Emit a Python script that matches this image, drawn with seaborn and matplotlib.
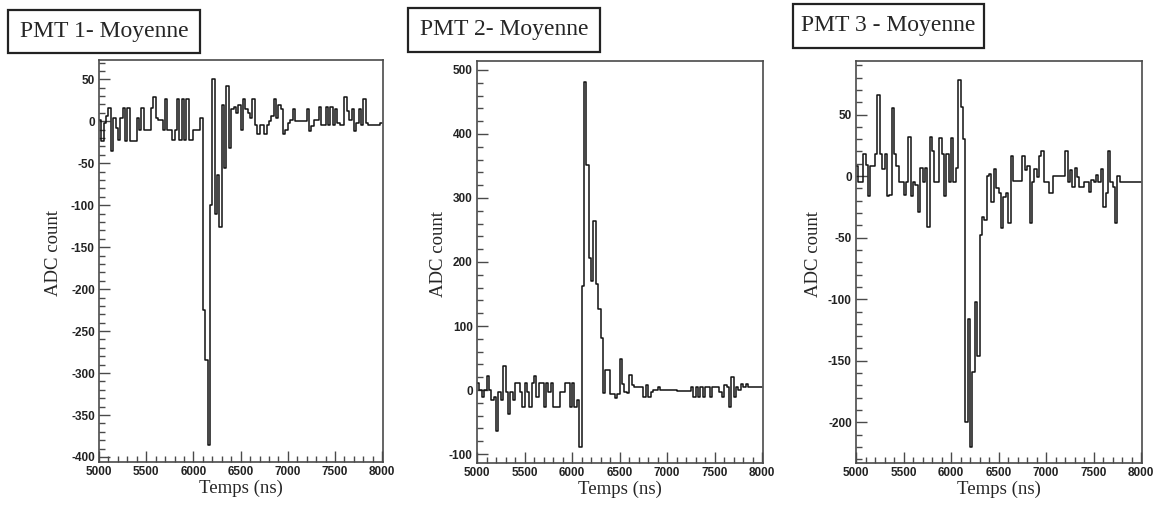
import numpy as np
import pandas as pd
import matplotlib
matplotlib.use("Agg")
import matplotlib.pyplot as plt
from matplotlib.ticker import MultipleLocator
from matplotlib.patches import Rectangle
import seaborn as sns

# ---------------- data ----------------
t_start, t_end = 5000, 8000

pmt1_adc = [2, -23, -2, 6, 16, -35, 4, -8, -22, 4, 16, -23, 16, -23, -23, -23, 4, -10, 16, -10,
            -10, -10, 16, 29, 4, 2, 2, -10, 27, -10, -10, -22, -10, 27, -22, 27, -22, 27, -22, -22,
            -10, -10, -10, 4,
            -225, -285, -386, -100, 50, -110, -64, -126, 19, -56, 42, -32, 15,
            17, 10, 19, -10, 27, 15, 10, 4, 26, -4, -15, -4, -4, -15, -4, 0, 6, 26, 4, 19,
            15, -15, -10, -2, 2, 15, 0, 0, 0, 0, 0, 15, -12, -6, 2, 2, 17, -4, -4, 17,
            -4, 17, -4, 15, -2, -4, -4, 29, 12, 2, 15, -12, -2, 15, -4, 26, -2, -4, -4, -4,
            -4, -4, -2]

pmt2_adc = [11, 0, -11, 0, 22, 0, -16, -11, -64, -3, -16, 37, -3, -37, -3, -16, 11, 11, -3, -27,
            11, -3, -27, 11, 22, -11, 11, 11, -27, 11, -3, 11, -27, -27, -27, -3, -3, 11, 11, -27,
            11, -27, -16, -89,
            163, 481, 352, 206, 170, 264, 165, 127, 82, -5, 31, 31, -6,
            -6, -12, -6, 49, 10, -3, -5, 24, 8, 5, 5, 5, 5, -11, 8, -11, -3, 0, 0, 5,
            0, 0, 0, 0, 0, 0, 0, -1, -1, -1, -1, -1, -1, 5, -11, 5, -11, 5, -11, 5,
            5, -11, 5, 5, 5, -3, -11, 8, 5, -27, 21, -11, 5, 0, 10, 5, 10, 5, 5, 5,
            5, 5, 5]

pmt3_adc = [8, -5, -5, 18, 9, -16, 8, 8, 18, 66, 18, 6, 18, -16, -15, 55, 18, 8, -5, -5,
            -15, -5, 32, -16, -5, -7, -29, 7, -5, 7, -41, 32, 20, -5, -5, 31, 18, -16, 18, -5,
            31, -5, 7, 78, 56, 30,
            -200, -116, -220, -159, -102, -146, -48, -33, -36, 0, 2, -21, 6, -10, -14, -42,
            -17, -14, -38, 16,
            -4, -4, -4, -4, 16, 5, 8, -38, -5, 6, -1, 16, 20, -5, -5, -14, -14, 0, 0, 0,
            0, 0, 20, -5, 5, -9, 7, -1, -9, -9, -5, -5, -13, -3, -5, 1, -5, 6, -25, -14,
            20, -5, -9, -38, 0, -5, -5, -5, -5, -5, -5, -5, -5, -5]

titles = ["PMT 1- Moyenne", "PMT 2- Moyenne", "PMT 3 - Moyenne"]
x_label = "Temps (ns)"
y_label = "ADC count"
x_ticks = [5000, 5500, 6000, 6500, 7000, 7500, 8000]
y_limits = [(-406, 73), (-114, 514), (-233, 93.5)]
y_major = [50, 100, 50]
y_minor = [10, 20, 10]

# ---------------- style ----------------
sns.set_style("white")
plt.rcParams["font.family"] = ["Liberation Sans", "DejaVu Sans"]
plt.rcParams["axes.unicode_minus"] = False

W, H = 1157, 512
fig = plt.figure(figsize=(W / 100, H / 100), dpi=100)
fig.patch.set_facecolor("white")

# axes boxes in pixels: left, top, right, bottom
ax_px = [(99, 60, 383, 462), (477, 61, 763, 463), (856, 61, 1142, 463)]
ylab_x = [-0.13, -0.105, -0.118]
title_box = [(8, 10, 200, 53), (408, 8, 600, 52), (793, 4, 984, 48)]

series = [pmt1_adc, pmt2_adc, pmt3_adc]
frame_col = "#4a4a4a"

for i, vals in enumerate(series):
    l, t, r, b = ax_px[i]
    ax = fig.add_axes([l / W, 1 - b / H, (r - l) / W, (b - t) / H])
    edges = np.linspace(t_start, t_end, len(vals) + 1)
    df = pd.DataFrame({"t": edges, "adc": list(vals) + [vals[-1]]})
    sns.lineplot(data=df, x="t", y="adc", ax=ax, drawstyle="steps-post",
                 color="#111111", linewidth=1.1, estimator=None, sort=False)
    ax.set_xlim(t_start, t_end + 8)
    ax.set_ylim(*y_limits[i])
    ax.set_xticks(x_ticks)
    ax.xaxis.set_minor_locator(MultipleLocator(100))
    ax.yaxis.set_major_locator(MultipleLocator(y_major[i]))
    ax.yaxis.set_minor_locator(MultipleLocator(y_minor[i]))
    ax.tick_params(axis="both", which="major", direction="in", length=8, width=1.0,
                   color=frame_col, labelsize=8.5, pad=3, top=False, right=False,
                   bottom=True, left=True)
    ax.tick_params(axis="both", which="minor", direction="in", length=4, width=1.0,
                   color=frame_col, top=False, right=False, bottom=True, left=True)
    for lab in ax.get_xticklabels() + ax.get_yticklabels():
        lab.set_fontweight("bold")
        lab.set_color("#222222")
    for sp in ax.spines.values():
        sp.set_color(frame_col)
        sp.set_linewidth(1.2)
    ax.set_xlabel(x_label, family="Liberation Serif", fontsize=13.5)
    ax.set_ylabel(y_label, family="Liberation Serif", fontsize=13.5)
    ax.xaxis.set_label_coords(0.5, -0.045)
    ax.yaxis.set_label_coords(ylab_x[i], 0.52)
    ax.grid(False)

    x0, y0, x1, y1 = title_box[i]
    fig.add_artist(Rectangle((x0 / W, 1 - y1 / H), (x1 - x0) / W, (y1 - y0) / H,
                             transform=fig.transFigure, fill=False,
                             edgecolor="#222222", linewidth=1.6))
    fig.text((x0 + x1) / 2 / W, 1 - (y0 + y1) / 2 / H, titles[i],
             ha="center", va="center", fontsize=17, family="Liberation Serif")

fig.savefig("out.png", dpi=100, facecolor="white")
